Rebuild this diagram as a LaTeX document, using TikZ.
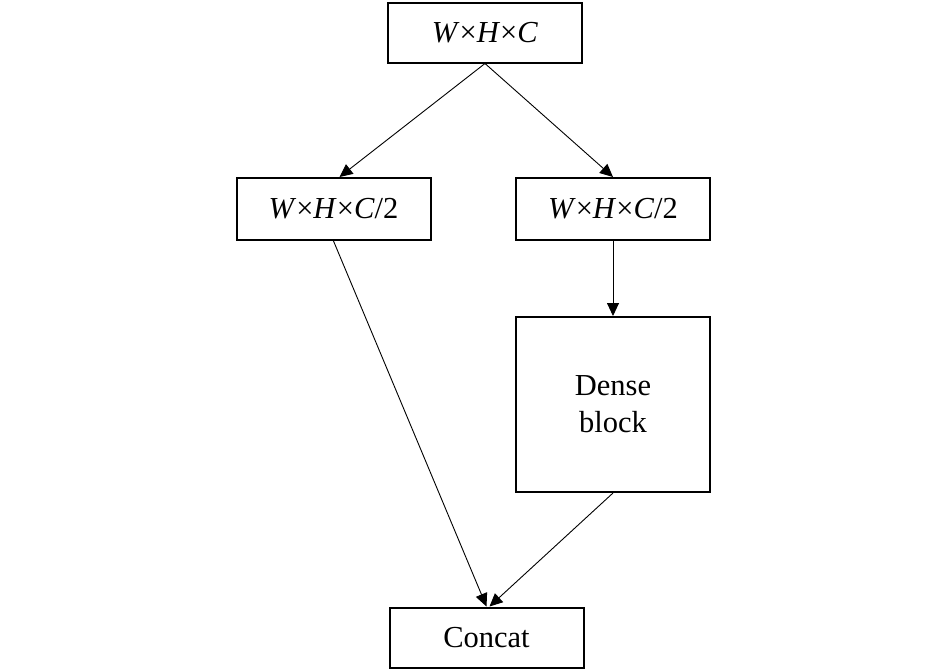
\documentclass[tikz,border=0pt]{standalone}
\usepackage{fontspec}
\setmainfont{Liberation Serif}
\usetikzlibrary{arrows.meta}
\tikzset{
  blocknode/.style={
    draw=black,
    line width=2pt,
    minimum width=194pt,
    minimum height=60pt,
    inner sep=0pt,
    align=center,
    font=\fontsize{30.5}{37}\selectfont
  },
  blockarrow/.style={
    -{Triangle[length=13pt,width=12pt]},
    line width=0.9pt,
    draw=black
  }
}
\newcommand{\dimtext}[1]{\textit{W}×\textit{H}×\textit{C}#1}
\begin{document}
\begin{tikzpicture}[x=1pt,y=-1pt]
\useasboundingbox (0,0) rectangle (945,670);
\node[blocknode] (input) at (485,32.5) {\dimtext{}};
\node[blocknode, minimum height=62pt] (splitleft) at (333.5,209) {\dimtext{/2}};
\node[blocknode, minimum height=62pt] (splitright) at (613,209) {\dimtext{/2}};
\node[blocknode, minimum height=175pt] (dense) at (613,404.5) {Dense\\block};
\node[blocknode] (concat) at (486.5,637.5) {Concat};
\draw[blockarrow] (input.south) -- ([xshift=6pt]splitleft.north);
\draw[blockarrow] (input.south) -- (splitright.north);
\draw[blockarrow] (splitright) -- (dense);
\draw[blockarrow] (splitleft.south) -- (concat.north);
\draw[blockarrow] (dense.south) -- ([xshift=3pt]concat.north);
\end{tikzpicture}
\end{document}
